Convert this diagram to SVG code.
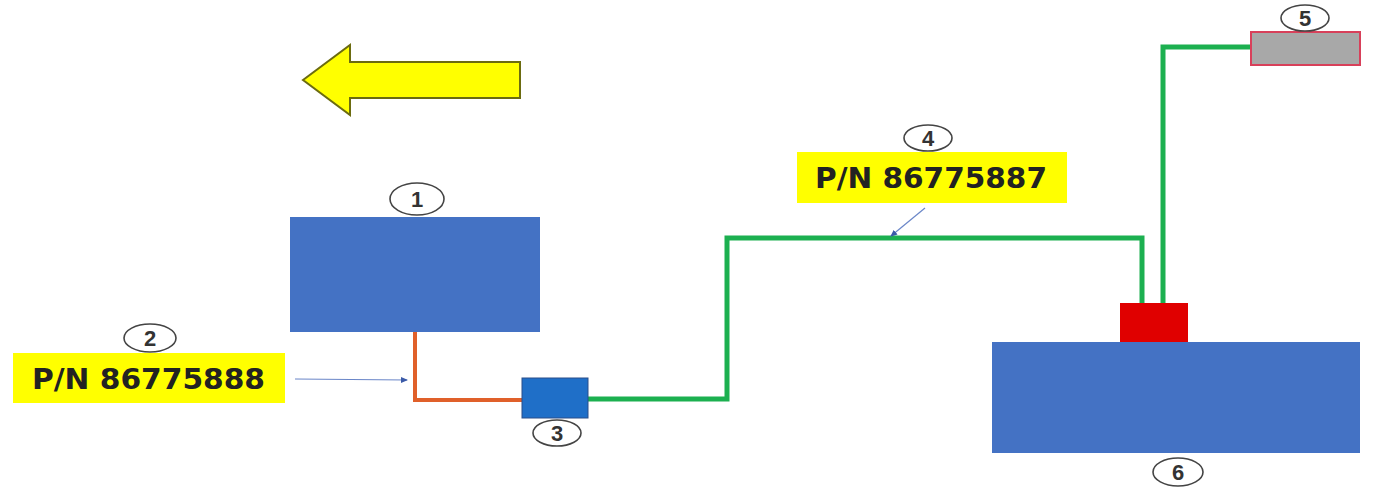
<svg xmlns="http://www.w3.org/2000/svg" width="1373" height="493" viewBox="0 0 1373 493">
<defs>
<style>
.box{fill:#4472C4;}
.tag{fill:#FFFF00;}
.tagtxt{font-family:"DejaVu Sans",sans-serif;font-weight:bold;font-size:28px;fill:#222;}
.num{fill:#fff;stroke:#444;stroke-width:1.6;}
.numtxt{font-family:"Liberation Sans",sans-serif;font-weight:bold;font-size:22px;fill:#333;text-anchor:middle;}
.pipeG{fill:none;stroke:#1CB050;stroke-width:5;}
.pipeO{fill:none;stroke:#E0602A;stroke-width:4;}
.lead{fill:none;stroke:#6A86C8;stroke-width:1.2;}
</style>
<marker id="ah" markerWidth="8" markerHeight="8" refX="6" refY="4" orient="auto" markerUnits="userSpaceOnUse">
<path d="M0,1 L7,4 L0,7 z" fill="#3A5AA8"/>
</marker>
</defs>
<rect width="1373" height="493" fill="#fff"/>
<g id="flow-arrow">
<polygon points="303,80 350,45 350,62 520,62 520,98 350,98 350,115" fill="#FFFF00" stroke="#6B6B10" stroke-width="2"/>
</g>
<g id="connectors">
<path class="pipeO" d="M415,332 V400 H523"/>
<path class="pipeG" d="M588,399 H727 V238 H1142 V303"/>
<path class="pipeG" d="M1163,303 V47 H1251"/>
<path class="lead" d="M295,379 L407,380" marker-end="url(#ah)"/>
<path class="lead" d="M925,208 L891,236" marker-end="url(#ah)"/>
</g>
<g id="node1">
<rect class="box" x="290" y="217" width="250" height="115"/>
<ellipse class="num" cx="417" cy="199" rx="27" ry="16"/>
<text class="numtxt" x="417" y="207">1</text>
</g>
<g id="node2">
<rect class="tag" x="13" y="353" width="272" height="50"/>
<text class="tagtxt" x="32" y="389" textLength="233" lengthAdjust="spacingAndGlyphs">P/N 86775888</text>
<ellipse class="num" cx="150" cy="338" rx="26" ry="14"/>
<text class="numtxt" x="150" y="346">2</text>
</g>
<g id="node3">
<rect x="522" y="378" width="66" height="40" fill="#1F6FC8" stroke="#2A4F8A" stroke-width="1"/>
<ellipse class="num" cx="557" cy="433" rx="24" ry="13"/>
<text class="numtxt" x="557" y="441">3</text>
</g>
<g id="node4">
<rect class="tag" x="797" y="152" width="270" height="51"/>
<text class="tagtxt" x="815" y="188" textLength="232" lengthAdjust="spacingAndGlyphs">P/N 86775887</text>
<ellipse class="num" cx="928" cy="138" rx="24" ry="13"/>
<text class="numtxt" x="928" y="146">4</text>
</g>
<g id="node5">
<rect x="1251" y="32" width="109" height="33" fill="#A8A8A8" stroke="#D8405A" stroke-width="2"/>
<ellipse class="num" cx="1305" cy="18" rx="24" ry="13"/>
<text class="numtxt" x="1305" y="26">5</text>
</g>
<g id="node-red">
<rect x="1120" y="303" width="68" height="40" fill="#E00000"/>
</g>
<g id="node6">
<rect class="box" x="992" y="342" width="368" height="111"/>
<ellipse class="num" cx="1178" cy="472" rx="25" ry="14"/>
<text class="numtxt" x="1178" y="480">6</text>
</g>
</svg>
